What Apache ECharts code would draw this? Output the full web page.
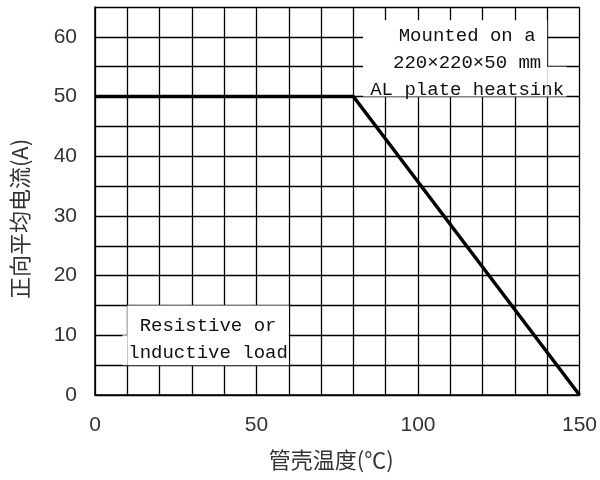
<!DOCTYPE html>
<html><head><meta charset="utf-8">
<script src="https://cdn.jsdelivr.net/npm/echarts@6/dist/echarts.min.js"></script>
<style>html,body{margin:0;padding:0;background:#fff}#c{width:600px;height:480px}</style>
</head><body><div id="c"></div>
<script>
const temps = [0, 80, 150];
const currents = [50, 50, 0];
const xTickLabels = [0, 50, 100, 150];
const yTickLabels = [0, 10, 20, 30, 40, 50, 60];
const xName = '管壳温度(℃)';
const yName = '正向平均电流(A)';
const noteHeatsink = 'Mounted on a\n220×220×50 mm\nAL plate heatsink';
const noteLoad = 'Resistive or\nlnductive load';

const chart = echarts.init(document.getElementById('c'));
const gridLine = {show: true, lineStyle: {color: '#000', width: 1.3}};
const tickFont = {fontFamily: 'Liberation Sans', fontSize: 21, color: '#333'};
const noteLabel = {show: true, position: 'inside', color: '#111', fontFamily: 'Liberation Mono', fontSize: 19, lineHeight: 27};
chart.setOption({
  animation: false,
  grid: {left: 95, right: 20, top: 7, bottom: 85},
  xAxis: {
    type: 'value', min: 0, max: 150, interval: 10,
    axisLine: {show: true, lineStyle: {color: '#000', width: 1.5}},
    axisTick: {show: false},
    splitLine: gridLine,
    axisLabel: Object.assign({margin: 20, formatter: v => xTickLabels.includes(v) ? String(v) : ''}, tickFont),
    name: xName, nameLocation: 'middle', nameGap: 54,
    nameTextStyle: {fontFamily: 'Noto Sans CJK SC', fontSize: 22, color: '#333', padding: [0, 12, 0, 0]}
  },
  yAxis: {
    type: 'value', min: 0, max: 65, interval: 5,
    axisLine: {show: true, lineStyle: {color: '#000', width: 1.5}},
    axisTick: {show: false},
    splitLine: gridLine,
    axisLabel: Object.assign({margin: 18, formatter: v => yTickLabels.includes(v) ? String(v) : ''}, tickFont),
    name: yName, nameLocation: 'middle', nameGap: 64, nameRotate: 90,
    nameTextStyle: {fontFamily: 'Noto Sans CJK SC', fontSize: 22, color: '#333', padding: [0, 36, 0, 0]}
  },
  series: [
    {
      type: 'line', data: [], z: 1, silent: true,
      markArea: {
        silent: true,
        itemStyle: {color: '#fff', borderWidth: 0},
        data: [
          [{xAxis: 83, yAxis: 62.8, label: Object.assign({offset: [12, 5]}, noteLabel), name: noteHeatsink}, {xAxis: 140, yAxis: 50}],
          [{xAxis: 140, yAxis: 55, label: {show: false}}, {xAxis: 146, yAxis: 50}],
          [{xAxis: 10, yAxis: 15, label: Object.assign({offset: [0, 4]}, noteLabel), name: noteLoad}, {xAxis: 60, yAxis: 5}],
          [{xAxis: 8.5, yAxis: 10, label: {show: false}}, {xAxis: 10, yAxis: 5}]
        ]
      }
    },
    {
      type: 'line', z: 3,
      data: temps.map((t, i) => [t, currents[i]]),
      showSymbol: false, symbol: 'none',
      lineStyle: {color: '#000', width: 3.5}
    }
  ]
});
</script></body></html>
